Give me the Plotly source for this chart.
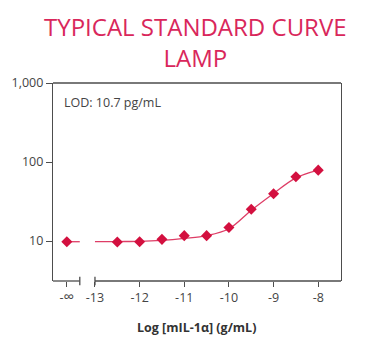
import plotly.graph_objects as go

# Standard concentrations (log g/mL) and measured signal
log_conc = [-12.5, -12, -11.5, -11, -10.5, -10, -9.5, -9, -8.5, -8]
signal = [9.7, 9.8, 10.5, 11.7, 11.7, 14.8, 25.2, 39.7, 64.9, 78.9]
blank_signal = 9.8  # zero-analyte standard, shown at -∞

# Fitted standard curve sampled at half-log steps
fit_conc = [-13, -12.5, -12, -11.5, -11, -10.5, -10, -9.5, -9, -8.5, -8]
fit_signal = [9.8, 9.85, 9.9, 10.2, 10.8, 11.7, 14.3, 24.5, 40, 63, 79]

x_ticks = [-13, -12, -11, -10, -9, -8]
x_tick_text = ["-13", "-12", "-11", "-10", "-9", "-8"]
y_ticks = [10, 100, 1000]
y_tick_text = ["10", "100", "1,000"]

# Axis layout: position of the -∞ slot and the broken-axis gap
NEG_INF_X = -13.63
BREAK_L = -13.34
BREAK_R = -13.0
X_RANGE = [-13.94, -7.49]
Y_RANGE_LOG = [0.494, 3]

RED = "#d3103f"
LINE_RED = "#de3d66"
TITLE_RED = "#d9275b"
AX = "#4d4d4d"
TXT = "#444444"
FONT = "Open Sans"

fig = go.Figure()

fig.add_trace(go.Scatter(
    x=fit_conc, y=fit_signal, mode="lines",
    line=dict(color=LINE_RED, width=1.3, shape="spline", smoothing=1.0),
    hoverinfo="skip",
))
fig.add_trace(go.Scatter(
    x=[NEG_INF_X, BREAK_L], y=[blank_signal, blank_signal], mode="lines",
    line=dict(color=LINE_RED, width=1.3),
    hoverinfo="skip",
))
fig.add_trace(go.Scatter(
    x=[NEG_INF_X] + log_conc, y=[blank_signal] + signal, mode="markers",
    marker=dict(symbol="diamond", size=8.5, color=RED, line=dict(width=0)),
))

cap = 0.022  # half height of the break caps, in paper units
shapes = [
    # top frame line
    dict(type="line", xref="paper", yref="paper", x0=0, x1=1, y0=1, y1=1,
         line=dict(color=AX, width=1.3)),
    # broken bottom axis
    dict(type="line", xref="x", yref="paper", x0=X_RANGE[0], x1=BREAK_L, y0=0, y1=0,
         line=dict(color=AX, width=1.3)),
    dict(type="line", xref="x", yref="paper", x0=BREAK_R, x1=X_RANGE[1], y0=0, y1=0,
         line=dict(color=AX, width=1.3)),
    dict(type="line", xref="x", yref="paper", x0=BREAK_L, x1=BREAK_L, y0=-cap, y1=cap,
         line=dict(color=AX, width=1.3)),
    dict(type="line", xref="x", yref="paper", x0=BREAK_R, x1=BREAK_R, y0=-cap, y1=cap,
         line=dict(color=AX, width=1.3)),
]

fig.update_layout(
    width=371, height=346,
    margin=dict(l=46, r=30, t=83, b=65),
    paper_bgcolor="white", plot_bgcolor="white",
    showlegend=False,
    xaxis=dict(
        range=X_RANGE, showgrid=False, zeroline=False, showline=False,
        tickvals=[NEG_INF_X] + x_ticks,
        ticktext=["-<span style='font-size:15px'>∞</span>"] + x_tick_text,
        ticks="outside", ticklen=5, tickwidth=1.3, tickcolor=AX,
        tickfont=dict(family=FONT, size=12.5, color=TXT),
    ),
    yaxis=dict(
        type="log", range=Y_RANGE_LOG, showgrid=False, zeroline=False,
        showline=True, mirror=True, linecolor=AX, linewidth=1.3,
        tickvals=y_ticks, ticktext=y_tick_text,
        ticks="outside", ticklen=6, tickwidth=1.3, tickcolor=AX,
        tickfont=dict(family=FONT, size=12.5, color=TXT),
    ),
    shapes=shapes,
    annotations=[
        dict(text="TYPICAL STANDARD CURVE<br>LAMP", xref="paper", yref="paper",
             x=0.495, y=1.38, xanchor="center", yanchor="top", showarrow=False,
             font=dict(family=FONT, size=24, color=TITLE_RED)),
        dict(text="LOD: 10.7 pg/mL", xref="paper", yref="paper",
             x=0.03, y=0.899, xanchor="left", yanchor="middle", showarrow=False,
             font=dict(family=FONT, size=12.5, color=TXT)),
        dict(text="<b>Log [mIL-1α] (g/mL)</b>", xref="paper", yref="paper",
             x=0.497, y=-0.237, xanchor="center", yanchor="middle", showarrow=False,
             font=dict(family=FONT, size=12.5, color="#333333")),
    ],
)

fig.write_html("out.html")
